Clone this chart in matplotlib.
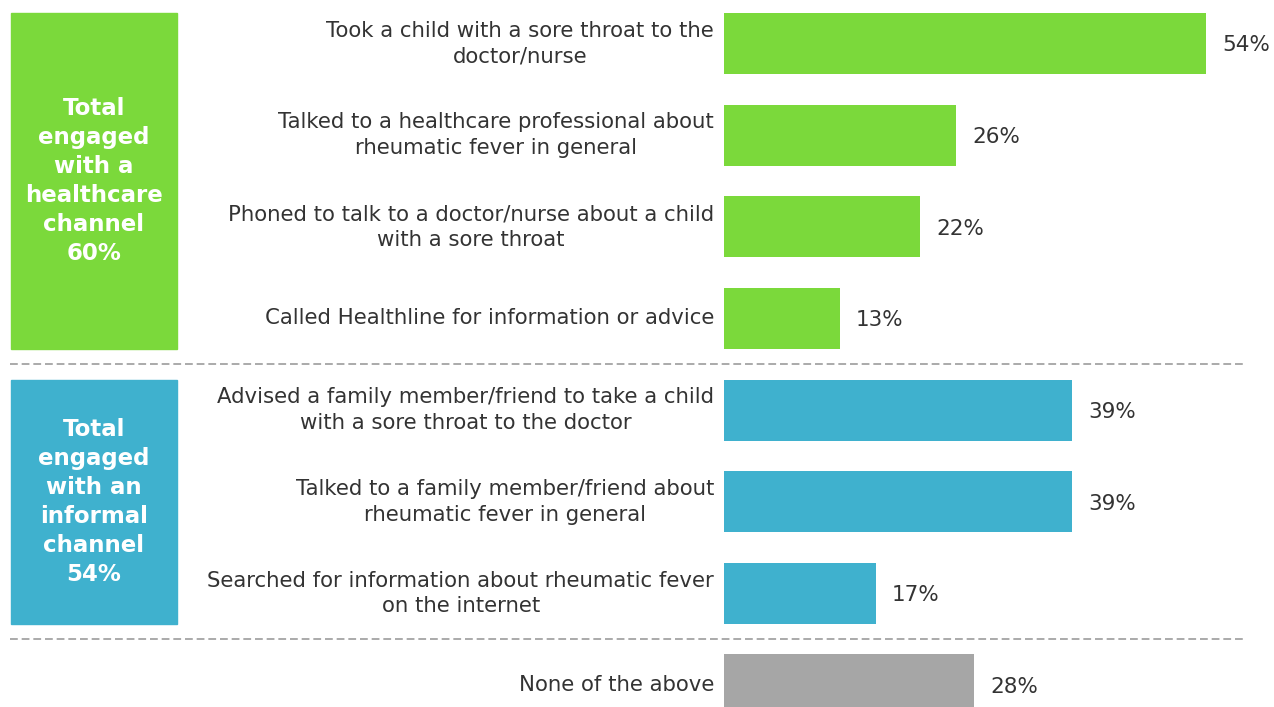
import matplotlib.pyplot as plt
import matplotlib.transforms as mtransforms
from matplotlib.patches import Rectangle

# Survey responses, top to bottom
labels = [
    "Took a child with a sore throat to the\ndoctor/nurse",
    "Talked to a healthcare professional about\nrheumatic fever in general",
    "Phoned to talk to a doctor/nurse about a child\nwith a sore throat",
    "Called Healthline for information or advice",
    "Advised a family member/friend to take a child\nwith a sore throat to the doctor",
    "Talked to a family member/friend about\nrheumatic fever in general",
    "Searched for information about rheumatic fever\non the internet",
    "None of the above",
]
values = [54, 26, 22, 13, 39, 39, 17, 28]
groups = ["health", "health", "health", "health", "informal", "informal", "informal", "none"]

group_colors = {"health": "#7bd93b", "informal": "#3fb1ce", "none": "#a6a6a6"}
group_titles = {
    "health": "Total\nengaged\nwith a\nhealthcare\nchannel\n60%",
    "informal": "Total\nengaged\nwith an\ninformal\nchannel\n54%",
}

text_color = "#333333"
bar_h = 0.666

fig = plt.figure(figsize=(12.74, 7.07), dpi=100)
ax = fig.add_axes([724 / 1274, 0, 550 / 1274, 1])
ax.set_xlim(0, 61.6)
ax.set_ylim(7.24, -0.475)
ax.axis("off")

ypos = list(range(len(values)))
ax.barh(ypos, values, height=bar_h, color=[group_colors[g] for g in groups])

for y, v, lab in zip(ypos, values, labels):
    ax.text(v + 1.8, y + 0.02, f"{v}%", va="center", ha="left",
            fontsize=15.5, color=text_color, clip_on=False)
    ax.text(-1.1, y, lab, va="center", ha="right", ma="center",
            fontsize=15.3, color=text_color, linespacing=1.35, clip_on=False)

# coloured group boxes on the left
trans = mtransforms.blended_transform_factory(fig.transFigure, ax.transData)
for g, title in group_titles.items():
    idx = [i for i, gg in enumerate(groups) if gg == g]
    top = idx[0] - bar_h / 2
    bottom = idx[-1] + bar_h / 2
    x0, x1 = 11 / 1274, 177 / 1274
    ax.add_patch(Rectangle((x0, top), x1 - x0, bottom - top, transform=trans,
                           color=group_colors[g], clip_on=False))
    ax.text((x0 + x1) / 2, (top + bottom) / 2, title, transform=trans,
            ha="center", va="center", ma="center", color="white",
            fontsize=16.5, fontweight="bold", linespacing=1.33)

# dashed separators between groups
for i in range(1, len(groups)):
    if groups[i] != groups[i - 1]:
        ax.plot([10 / 1274, 1245 / 1274], [i - 0.5, i - 0.5], transform=trans,
                color="#aaaaaa", lw=1.4, ls=(0, (4, 2)), clip_on=False)

fig.savefig("out.png", dpi=100)
